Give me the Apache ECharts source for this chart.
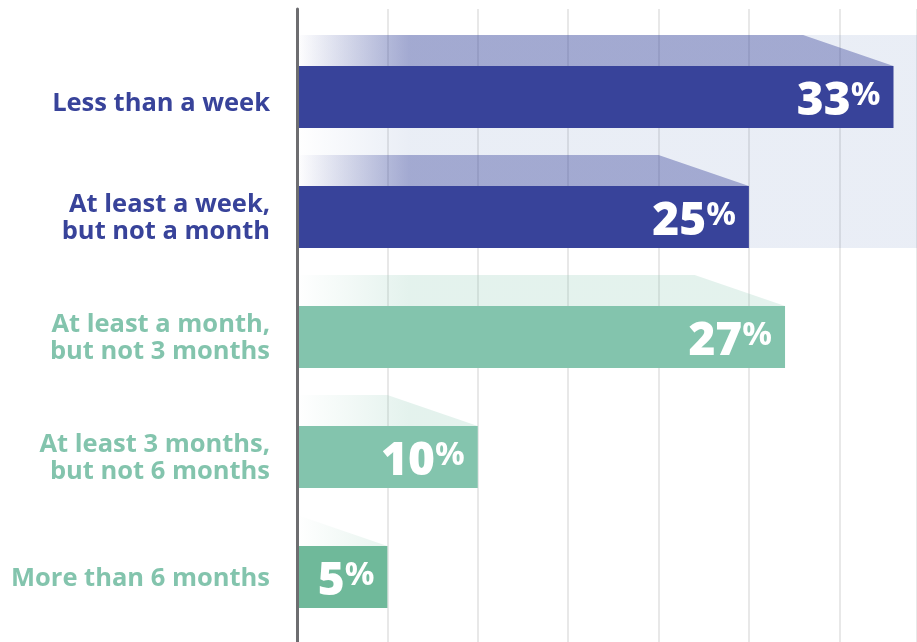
<!DOCTYPE html>
<html>
<head>
<meta charset="utf-8">
<script src="https://cdn.jsdelivr.net/npm/echarts@6/dist/echarts.min.js"></script>
<style>
html,body{margin:0;padding:0;background:#fff;}
#chart{width:917px;height:642px;}
</style>
</head>
<body>
<div id="chart"></div>
<script>
// ---- data ----
const categories = [
  'Less than a week',
  'At least a week,\nbut not a month',
  'At least a month,\nbut not 3 months',
  'At least 3 months,\nbut not 6 months',
  'More than 6 months'
];
const values = [33, 25, 27, 10, 5];
const highlightCats = [0, 1];   // categories sharing the shaded panel

// ---- styles ----
const barColors = ['#38439a', '#38439a', '#83c4ad', '#83c4ad', '#6fb99a'];
const shadowColors = ['rgba(56,67,154,0.4)', 'rgba(56,67,154,0.4)', 'rgba(131,196,173,0.22)', 'rgba(131,196,173,0.22)', 'rgba(111,185,154,0.2)'];
const shadowFade = ['rgba(56,67,154,0)', 'rgba(56,67,154,0)', 'rgba(131,196,173,0)', 'rgba(131,196,173,0)', 'rgba(111,185,154,0)'];
const labelColors = ['#38439a', '#38439a', '#83c4ad', '#83c4ad', '#83c4ad'];
const labelShift = [13, 5, 5, 5, 4];
const X_MAX = 34.3;
const BAR_RATIO = 0.517;
const FADE_UNITS = 6.2;
const STEP = 5;

const chart = echarts.init(document.getElementById('chart'), null, {renderer: 'canvas'});

function shadowItem(params, api) {
  const v = api.value(0), i = api.value(1);
  const band = api.size([0, 1])[1];
  const barH = band * BAR_RATIO;
  const end = api.coord([v, i]);
  const x0 = api.coord([0, i])[0];
  const xc = api.coord([Math.max(0, v - STEP), i])[0];
  const barTop = end[1] - barH / 2;
  const top = barTop - barH / 2;
  const fadeEnd = api.coord([FADE_UNITS, i])[0];
  return {
    type: 'polygon',
    shape: {points: [[x0, top], [xc, top], [end[0], barTop], [x0, barTop]]},
    style: {
      fill: new echarts.graphic.LinearGradient(x0, 0, fadeEnd, 0, [
        {offset: 0, color: shadowFade[i]},
        {offset: 1, color: shadowColors[i]}
      ], true)
    }
  };
}

function bandItem(params, api) {
  const a = api.value(0), b = api.value(1);
  const band = api.size([0, 1])[1];
  const barH = band * BAR_RATIO;
  const p0 = api.coord([0, a]);
  const p1 = api.coord([X_MAX, b]);
  const top = p0[1] - barH / 2 - barH / 2;
  const bottom = p1[1] + barH / 2;
  const fadeEnd = api.coord([FADE_UNITS, a])[0];
  return {
    type: 'rect',
    shape: {x: p0[0], y: top, width: p1[0] - p0[0], height: bottom - top},
    style: {
      fill: new echarts.graphic.LinearGradient(p0[0], 0, fadeEnd, 0, [
        {offset: 0, color: 'rgba(45,85,165,0)'},
        {offset: 1, color: 'rgba(45,85,165,0.1)'}
      ], true)
    }
  };
}

const rich = {};
labelColors.forEach((c, i) => {
  rich['c' + i] = {
    fontFamily: 'Open Sans', fontWeight: 700, fontSize: 25.5, lineHeight: 30,
    color: c, align: 'right'
  };
  rich['t' + i] = {
    fontFamily: 'Open Sans', fontWeight: 700, fontSize: 25.5, lineHeight: 30,
    color: c, align: 'right', padding: [labelShift[i], 0, 0, 0]
  };
});

const option = {
  backgroundColor: '#ffffff',
  animation: false,
  grid: [
    {left: 297, right: 0, top: 9, bottom: 0},
    {left: 297, right: 0, top: 37, bottom: 5}
  ],
  xAxis: [
    {
      gridIndex: 0, type: 'value', min: 0, max: X_MAX, interval: STEP,
      axisLine: {show: false}, axisTick: {show: false}, axisLabel: {show: false},
      splitLine: {show: true, lineStyle: {color: '#e0e0e0', width: 1.5}}
    },
    {
      gridIndex: 1, type: 'value', min: 0, max: X_MAX, interval: STEP,
      axisLine: {show: false}, axisTick: {show: false}, axisLabel: {show: false},
      splitLine: {show: false}
    }
  ],
  yAxis: [
    {
      gridIndex: 0, type: 'value', min: 0, max: 1, z: 10,
      axisLine: {show: true, onZero: false, lineStyle: {color: '#6d6d70', width: 3}},
      axisTick: {show: false}, axisLabel: {show: false}, splitLine: {show: false}
    },
    {
      gridIndex: 1, type: 'category', data: categories, inverse: true,
      axisLine: {show: false}, axisTick: {show: false}, splitLine: {show: false},
      axisLabel: {
        margin: 27,
        align: 'right',
        formatter: function (val, idx) {
          return val.split('\n').map((l, k) => '{' + (k === 0 ? 't' : 'c') + idx + '|' + l + '}').join('\n');
        },
        rich: rich
      }
    }
  ],
  series: [
    {
      type: 'custom', xAxisIndex: 1, yAxisIndex: 1, z: 1, silent: true,
      renderItem: bandItem,
      data: [highlightCats],
      encode: {x: -1, y: -1}
    },
    {
      type: 'custom', xAxisIndex: 1, yAxisIndex: 1, z: 2, silent: true,
      renderItem: shadowItem,
      data: values.map((v, i) => [v, i]),
      encode: {x: 0, y: 1}
    },
    {
      type: 'bar', xAxisIndex: 1, yAxisIndex: 1, z: 3,
      barWidth: (BAR_RATIO * 100) + '%',
      data: values.map((v, i) => ({value: v, itemStyle: {color: barColors[i]}})),
      label: {
        show: true, position: 'insideRight', distance: 13, offset: [0, 5],
        formatter: p => '{v|' + p.value + '}{p|%}',
        rich: {
          v: {fontFamily: 'Open Sans', fontWeight: 800, fontSize: 46, lineHeight: 46, color: '#fff'},
          p: {fontFamily: 'Open Sans', fontWeight: 700, fontSize: 33, lineHeight: 33, color: '#fff', verticalAlign: 'top'}
        }
      }
    }
  ]
};
chart.setOption(option);
</script>
</body>
</html>
